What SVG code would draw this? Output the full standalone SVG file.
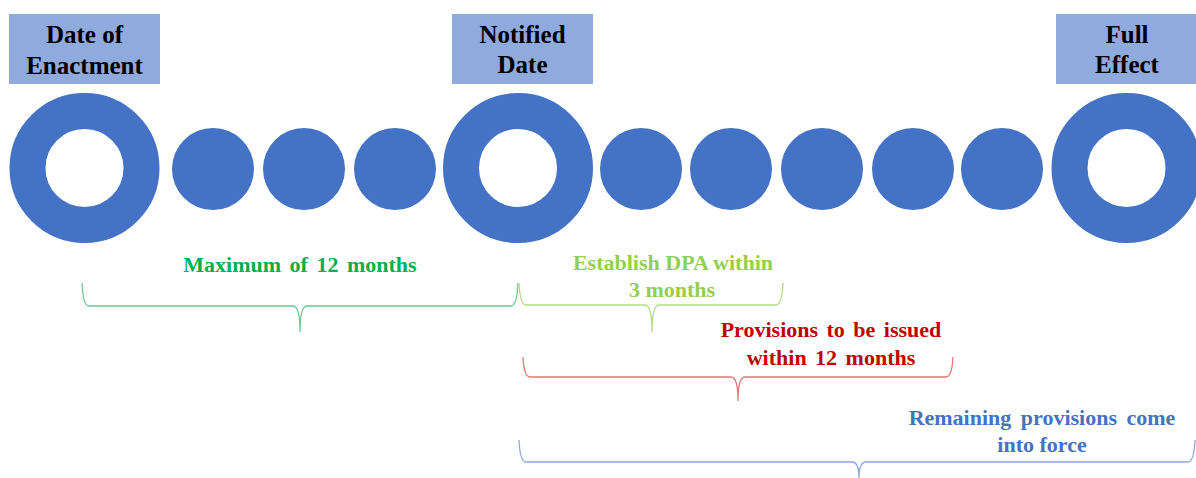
<svg xmlns="http://www.w3.org/2000/svg" width="1196" height="478" viewBox="0 0 1196 478">
<style>
.box{fill:#8FAADC}
.bt{font-weight:bold;font-size:25px;fill:#000;text-anchor:middle}
.ring{fill:none;stroke:#4472C4;stroke-width:36}
.dot{fill:#4472C4}
.lbl{font-weight:bold;font-size:22px;text-anchor:middle}
.brace{fill:none;stroke-width:1.3}
</style>
<rect width="1196" height="478" fill="#fff"/>
<g id="enactment" font-family="'Liberation Serif', 'Times New Roman', Times, serif">
<rect class="box" x="9" y="14" width="151" height="70"/>
<text class="bt" x="84.5" y="43">Date of</text>
<text class="bt" x="84.5" y="74">Enactment</text>
<circle class="ring" cx="84.5" cy="168" r="57"/>
</g>
<g id="dot1"><circle class="dot" cx="213" cy="169" r="41"/></g>
<g id="dot2"><circle class="dot" cx="304" cy="169" r="41"/></g>
<g id="dot3"><circle class="dot" cx="395" cy="169" r="41"/></g>
<g id="notified" font-family="'Liberation Serif', 'Times New Roman', Times, serif">
<rect class="box" x="452" y="14" width="141" height="70"/>
<text class="bt" x="522.5" y="43">Notified</text>
<text class="bt" x="522.5" y="73">Date</text>
<circle class="ring" cx="518" cy="168" r="57"/>
</g>
<g id="dot4"><circle class="dot" cx="641" cy="169" r="41"/></g>
<g id="dot5"><circle class="dot" cx="731" cy="169" r="41"/></g>
<g id="dot6"><circle class="dot" cx="822" cy="169" r="41"/></g>
<g id="dot7"><circle class="dot" cx="913" cy="169" r="41"/></g>
<g id="dot8"><circle class="dot" cx="1002" cy="169" r="41"/></g>
<g id="fulleffect" font-family="'Liberation Serif', 'Times New Roman', Times, serif">
<rect class="box" x="1056" y="14" width="142" height="70"/>
<text class="bt" x="1127" y="43">Full</text>
<text class="bt" x="1127" y="73">Effect</text>
<circle class="ring" cx="1126.5" cy="168" r="57"/>
</g>
<g id="connectors">
<path class="brace" stroke="#6CC98F" d="M82,283 Q83,306 89,306 H293 Q300,306 300,332 Q300,306 307,306 H511 Q517,306 518,283"/>
<path class="brace" stroke="#B3DB86" d="M519,283 Q520,305 526,305 H645 Q652,305 652,332 Q652,305 659,305 H776 Q782,305 783,283"/>
<path class="brace" stroke="#E57373" d="M523,357 Q524,377 530,377 H731 Q738,377 738,401 Q738,377 745,377 H946 Q952,377 953,357"/>
<path class="brace" stroke="#8EA9DB" d="M519,440 Q520,462 526,462 H852 Q859,462 859,478 Q859,462 866,462 H1188 Q1194,462 1195,440"/>
</g>
<g id="labels" font-family="'Liberation Serif', 'Times New Roman', Times, serif">
<text class="lbl" fill="#00B050" x="300" y="272" style="word-spacing:3px">Maximum of 12 months</text>
<text class="lbl" fill="#92D050" x="673" y="270">Establish DPA within</text>
<text class="lbl" fill="#92D050" x="672" y="297">3 months</text>
<text class="lbl" fill="#C00000" x="831" y="337" style="word-spacing:3px">Provisions to be issued</text>
<text class="lbl" fill="#C00000" x="831" y="365" style="word-spacing:3px">within 12 months</text>
<text class="lbl" fill="#4472C4" x="1042" y="425" style="word-spacing:4px">Remaining provisions come</text>
<text class="lbl" fill="#4472C4" x="1042" y="452">into force</text>
</g>
</svg>
